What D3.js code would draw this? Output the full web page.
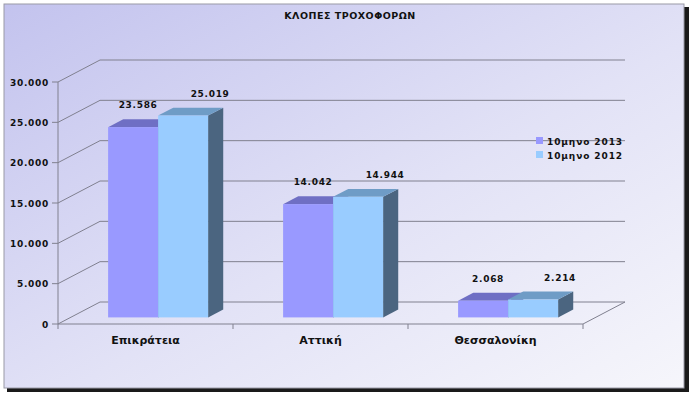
<!DOCTYPE html>
<html>
<head>
<meta charset="utf-8">
<script src="https://cdn.jsdelivr.net/npm/d3@7"></script>
<style>
  body { margin: 0; background: #fff; }
  text { font-family: 'DejaVu Sans', sans-serif; fill: #111; }
</style>
</head>
<body>
<div id="chart"></div>
<script>
const width = 700;
const height = 393;

const categories = ['Επικράτεια', 'Αττική', 'Θεσσαλονίκη'];
const seriesNames = ['10μηνο 2013', '10μηνο 2012'];
const values2013 = [23586, 14042, 2068];
const values2012 = [25019, 14944, 2214];
const tickValues = [0, 5000, 10000, 15000, 20000, 25000, 30000];

const seriesValues = [values2013, values2012];
const fronts = ['#9999ff', '#99ccff'];
const tops = ['#6f6fc4', '#6f9cc6'];
const sides = ['#4a4a8a', '#4b6580'];

// pseudo 3D depth of the plot box
const depth = { x: 42, y: -22 };
const barFront = 0.3;
const barBack = 0.66;

const gr = d3.formatLocale({ decimal: ',', thousands: '.', grouping: [3], currency: ['', '€'] });
const fmt = gr.format(',d');

const x = d3.scaleBand().domain(categories).range([58, 583]);
const x1 = d3.scaleBand().domain(seriesNames).range([0, x.bandwidth()]).paddingOuter(0.75);
const y = d3.scaleLinear().domain([0, 30000]).range([324, 82]);

const svg = d3.select('#chart').append('svg').attr('width', width).attr('height', height);

const defs = svg.append('defs');
const grad = defs.append('linearGradient').attr('id', 'bg')
  .attr('x1', 0).attr('y1', 0).attr('x2', 1).attr('y2', 1);
grad.append('stop').attr('offset', '0%').attr('stop-color', '#c3c3ee');
grad.append('stop').attr('offset', '55%').attr('stop-color', '#e2e2f6');
grad.append('stop').attr('offset', '100%').attr('stop-color', '#f6f6fb');

// frame with shadow
svg.append('rect').attr('x', 7).attr('y', 7).attr('width', 682).attr('height', 385).attr('fill', '#1a1a1a');
svg.append('rect').attr('x', 4).attr('y', 4).attr('width', 680).attr('height', 384)
  .attr('fill', 'url(#bg)').attr('stroke', '#9a9aa6').attr('stroke-width', 1);

svg.append('text').attr('x', 350).attr('y', 19).attr('text-anchor', 'middle')
  .style('font-size', '9.5px').style('font-weight', 'bold').style('letter-spacing', '0.5px')
  .text('ΚΛΟΠΕΣ ΤΡΟΧΟΦΟΡΩΝ');

const grid = svg.append('g').attr('stroke', '#80808f').attr('stroke-width', 1).attr('fill', 'none');
const x0 = x.range()[0];
const xEnd = x.range()[1];

// back wall lines and left wall diagonals
tickValues.forEach((t) => {
  grid.append('line')
    .attr('x1', x0 + depth.x).attr('y1', y(t) + depth.y)
    .attr('x2', xEnd + depth.x).attr('y2', y(t) + depth.y);
  grid.append('line')
    .attr('x1', x0).attr('y1', y(t))
    .attr('x2', x0 + depth.x).attr('y2', y(t) + depth.y);
  grid.append('line')
    .attr('x1', x0 - 6).attr('y1', y(t)).attr('x2', x0).attr('y2', y(t));
});
// floor
grid.append('line').attr('x1', x0).attr('y1', y(0)).attr('x2', xEnd).attr('y2', y(0));
grid.append('line').attr('x1', xEnd).attr('y1', y(0))
  .attr('x2', xEnd + depth.x).attr('y2', y(0) + depth.y);
grid.append('line').attr('x1', x0).attr('y1', y(0)).attr('x2', x0).attr('y2', y(30000));
categories.concat([null]).forEach((c, i) => {
  const cx = x0 + i * x.step();
  grid.append('line').attr('x1', cx).attr('y1', y(0)).attr('x2', cx).attr('y2', y(0) + 5);
});

svg.append('g').selectAll('text').data(tickValues).join('text')
  .attr('x', x0 - 9).attr('y', (d) => y(d) + 3.5).attr('text-anchor', 'end')
  .style('font-size', '9px').style('font-weight', 'bold').style('letter-spacing', '0.7px')
  .text((d) => fmt(d));

svg.append('g').selectAll('text').data(categories).join('text')
  .attr('x', (d) => x(d) + x.bandwidth() / 2).attr('y', 344).attr('text-anchor', 'middle')
  .style('font-size', '11px').style('font-weight', 'bold')
  .text(String);

// bars
const bars = svg.append('g');
const labelShift = [5, 27];
categories.forEach((c, ci) => {
  seriesNames.forEach((s, si) => {
    const v = seriesValues[si][ci];
    const fx = x(c) + x1(s) + depth.x * barFront;
    const fw = x1.bandwidth();
    const fy = y(v) + depth.y * barFront;
    const fb = y(0) + depth.y * barFront;
    const dx = depth.x * (barBack - barFront);
    const dy = depth.y * (barBack - barFront);
    const g = bars.append('g');
    g.append('path')
      .attr('d', `M${fx + fw},${fy}L${fx + fw + dx},${fy + dy}L${fx + fw + dx},${fb + dy}L${fx + fw},${fb}Z`)
      .attr('fill', sides[si]);
    g.append('path')
      .attr('d', `M${fx},${fy}L${fx + dx},${fy + dy}L${fx + fw + dx},${fy + dy}L${fx + fw},${fy}Z`)
      .attr('fill', tops[si]);
    g.append('rect').attr('x', fx).attr('y', fy).attr('width', fw).attr('height', fb - fy)
      .attr('fill', fronts[si]);
    svg.append('text')
      .attr('x', fx + fw / 2 + labelShift[si]).attr('y', fy + dy - 11)
      .attr('text-anchor', 'middle')
      .style('font-size', '9px').style('font-weight', 'bold').style('letter-spacing', '0.7px')
      .text(fmt(v));
  });
});

// legend
const legend = svg.append('g').attr('transform', 'translate(536,137)');
seriesNames.forEach((s, i) => {
  legend.append('rect').attr('x', 0).attr('y', i * 14).attr('width', 7).attr('height', 7).attr('fill', fronts[i]);
  legend.append('text').attr('x', 11).attr('y', i * 14 + 7.5)
    .style('font-size', '9px').style('font-weight', 'bold').style('letter-spacing', '0.9px')
    .text(s);
});
</script>
</body>
</html>
